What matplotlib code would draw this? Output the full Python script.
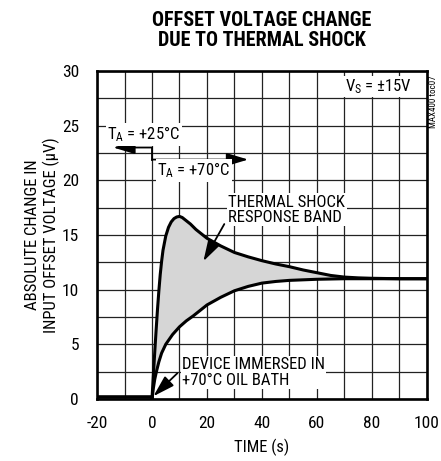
import numpy as np
import matplotlib
matplotlib.use('Agg')
import matplotlib.pyplot as plt
from matplotlib import font_manager

# values
t_upper = [0, 0.5, 1, 1.5, 2, 2.5, 3, 3.5, 4, 5, 6, 7, 8, 9, 10, 11, 12, 14, 16, 18, 20,
           25, 30, 35, 40, 45, 50, 55, 60, 65, 70, 75, 80, 90, 100]
v_upper = [0, 2.2, 4.3, 6.3, 8.2, 9.9, 11.4, 12.6, 13.6, 14.9, 15.7, 16.2, 16.5, 16.65, 16.7,
           16.6, 16.4, 16.0, 15.5, 15.1, 14.7, 14.0, 13.4, 13.0, 12.65, 12.35, 12.1, 11.8,
           11.55, 11.3, 11.15, 11.08, 11.04, 11.0, 11.0]
t_lower = [0, 0.5, 1, 1.6, 2.5, 3.5, 5, 7.5, 10, 12.5, 15, 20, 25, 30, 35, 40, 45, 50, 60,
           70, 80, 90, 100]
v_lower = [0, 1.0, 1.8, 2.5, 3.4, 4.2, 5.0, 5.9, 6.6, 7.15, 7.6, 8.6, 9.3, 9.9, 10.3, 10.6,
           10.75, 10.85, 10.95, 11.0, 11.0, 11.0, 11.0]
t_before = [-20, 0]
v_before = [0.15, 0.15]

x_ticks = [-20, 0, 20, 40, 60, 80, 100]
y_ticks = [0, 5, 10, 15, 20, 25, 30]

# narrow font if there is one, else Arial-like
installed = {f.name for f in font_manager.fontManager.ttflist}
fam = 'Liberation Sans'
for cand in ['Liberation Sans Narrow', 'Roboto Condensed', 'Open Sans Condensed']:
    if cand in installed:
        fam = cand
        break
plt.rcParams['font.family'] = [fam, 'DejaVu Sans']
plt.rcParams['mathtext.default'] = 'regular'
FS = 12

fig = plt.figure(figsize=(4.41, 4.61), dpi=100)
ax = fig.add_axes([0.22, 0.1345, 0.748, 0.7115])

# common interpolation grid for the shaded band
tt = np.linspace(0, 100, 1001)
up = np.interp(tt, t_upper, v_upper)
lo = np.interp(tt, t_lower, v_lower)
ax.fill_between(tt, lo, up, where=up >= lo, color='#d6d6d6', lw=0, zorder=2)
ax.plot(t_upper, v_upper, color='black', lw=2.2, zorder=4, solid_capstyle='round')
ax.plot(t_lower, v_lower, color='black', lw=2.2, zorder=4, solid_capstyle='round')
ax.plot(t_before, v_before, color='black', lw=2.6, zorder=4)

ax.set_xlim(-20, 100)
ax.set_ylim(0, 30)
ax.set_xticks(np.arange(-20, 101, 10), minor=True)
ax.set_yticks(np.arange(0, 30.1, 2.5), minor=True)
ax.set_xticks(x_ticks)
ax.set_yticks(y_ticks)
ax.set_xticklabels([str(v) for v in x_ticks], fontsize=FS + 0.5)
ax.set_yticklabels([str(v) for v in y_ticks], fontsize=FS + 0.5)
ax.tick_params(which='both', length=0)
ax.tick_params(axis='x', pad=12)
ax.tick_params(axis='y', pad=13)
ax.grid(which='both', color='#222222', lw=0.9, zorder=1)
ax.set_axisbelow(True)
for s in ax.spines.values():
    s.set_linewidth(1.9)
    s.set_zorder(6)

ax.set_xlabel('TIME (s)', fontsize=FS, labelpad=6)
ax.set_ylabel('ABSOLUTE CHANGE IN\nINPUT OFFSET VOLTAGE (µV)', fontsize=FS, labelpad=1.5,
              linespacing=1.15)

ax.set_title('OFFSET VOLTAGE CHANGE\nDUE TO THERMAL SHOCK', fontsize=14.5,
             fontweight='bold', linespacing=1.05, pad=18)

box = dict(facecolor='white', edgecolor='none', pad=1.0)
arrow = dict(arrowstyle='-|>,head_length=1.1,head_width=0.33', color='black', lw=1.3,
             shrinkA=0, shrinkB=0, mutation_scale=12)

# ambient temperature markers
ax.annotate('', xy=(-14.1, 23.0), xytext=(0, 23.0), arrowprops=arrow, zorder=5)
ax.plot([0, 0], [23.0, 21.9], color='black', lw=1.3, zorder=5)
ax.annotate('', xy=(35, 21.9), xytext=(0, 21.9), arrowprops=arrow, zorder=5)
ax.text(-3, 24.2, 'T$_A$ = +25°C', fontsize=FS, ha='center', va='center', bbox=box, zorder=5)
ax.text(15.2, 20.9, 'T$_A$ = +70°C', fontsize=FS, ha='center', va='center', bbox=box, zorder=5)

ax.text(82.2, 28.6, 'V$_S$ = ±15V', fontsize=FS, ha='center', va='center', bbox=box, zorder=5)

ax.text(27.8, 17.3, 'THERMAL SHOCK\nRESPONSE BAND', fontsize=FS, ha='left', va='center',
        linespacing=1.05, bbox=box, zorder=5)
ax.annotate('', xy=(18.7, 12.6), xytext=(26.3, 16.0), arrowprops=arrow, zorder=5)

ax.text(10.9, 2.45, 'DEVICE IMMERSED IN\n+70°C OIL BATH', fontsize=FS, ha='left',
        va='center', linespacing=1.05, bbox=box, zorder=5)
ax.annotate('', xy=(0.5, 0.25), xytext=(9.2, 2.35), arrowprops=arrow, zorder=5)

fig.text(0.983, 0.78, 'MAX400 toc07', fontsize=6.5, rotation=90, ha='center', va='center')

fig.savefig('out.png', dpi=100)
